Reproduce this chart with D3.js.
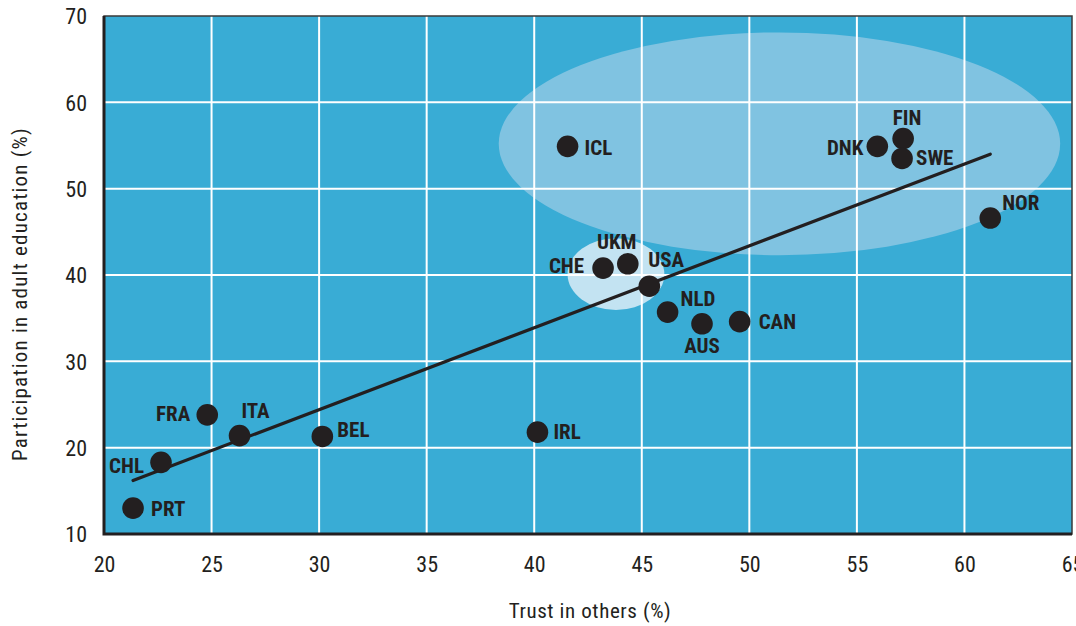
<!DOCTYPE html>
<html><head><meta charset="utf-8">
<script src="https://cdn.jsdelivr.net/npm/d3@7"></script>
<style>
html,body{margin:0;padding:0;background:#fff;}
svg{display:block;}
</style></head><body>
<svg id="chart" width="1076" height="626"></svg>
<script>
// ---- data ----
const countries = ["PRT","CHL","FRA","ITA","BEL","IRL","ICL","CHE","UKM","USA","NLD","AUS","CAN","DNK","FIN","SWE","NOR"];
const trust =      [21.35, 22.65, 24.8, 26.3, 30.15, 40.15, 41.55, 43.2, 44.35, 45.35, 46.2, 47.8, 49.55, 55.95, 57.15, 57.1, 61.2];
const participation = [13.0, 18.3, 23.8, 21.4, 21.3, 21.8, 54.9, 40.8, 41.3, 38.7, 35.7, 34.35, 34.6, 54.9, 55.8, 53.5, 46.6];
const xTicks = [20,25,30,35,40,45,50,55,60,65];
const yTicks = [10,20,30,40,50,60,70];
const trendX = [21.35, 61.2];
const trendY = [16.2, 54.0];
// highlighted clusters: [cx, cy, rx, ry] in data units
const clusterNordic = [51.4, 55.2, 13.05, 12.9];
const clusterAnglo = [43.8, 40.1, 2.25, 4.15];

// label placement (offsets in px, anchor)
const labelPos = {
  PRT:[18,0,"start"], CHL:[-17,3,"end"], FRA:[-17,-1,"end"], ITA:[16,-25,"middle"],
  BEL:[15,-7,"start"], IRL:[16,-1,"start"], ICL:[17,1,"start"], CHE:[-19,-3,"end"],
  UKM:[-11,-22,"middle"], USA:[-1,-27,"start"], NLD:[13,-14,"start"], AUS:[0,22,"middle"],
  CAN:[19,0,"start"], DNK:[-14,1,"end"], FIN:[4,-21,"middle"], SWE:[14,-1,"start"], NOR:[12,-16,"start"]
};

const svg = d3.select("#chart");
const L=104, R=1072, T=16, B=534;
const x = d3.scaleLinear().domain([20,65]).range([L,R]);
const y = d3.scaleLinear().domain([10,70]).range([B,T]);

svg.append("rect").attr("x",L).attr("y",T).attr("width",R-L).attr("height",B-T).attr("fill","#39acd5");

// ellipses
[[clusterNordic,"#80c3e1"],[clusterAnglo,"#c3e3f2"]].forEach(([c,col])=>{
  svg.append("ellipse")
    .attr("cx",x(c[0])).attr("cy",y(c[1]))
    .attr("rx",x(c[0]+c[2])-x(c[0])).attr("ry",y(c[1])-y(c[1]+c[3]))
    .attr("fill",col);
});

// grid
svg.append("g").selectAll("line").data(xTicks.filter(d=>d>20&&d<65)).join("line")
  .attr("x1",d=>x(d)).attr("x2",d=>x(d)).attr("y1",T).attr("y2",B)
  .attr("stroke","#fff").attr("stroke-width",2);
svg.append("g").selectAll("line").data(yTicks.filter(d=>d>10&&d<70)).join("line")
  .attr("y1",d=>y(d)).attr("y2",d=>y(d)).attr("x1",L).attr("x2",R)
  .attr("stroke","#fff").attr("stroke-width",2);

// frame
svg.append("rect").attr("x",L).attr("y",T).attr("width",R-L).attr("height",B-T)
  .attr("fill","none").attr("stroke","#3a3a3a").attr("stroke-width",1.5);
svg.append("path").attr("d",`M${L},${T}V${B}H${R}`).attr("fill","none")
  .attr("stroke","#231f20").attr("stroke-width",3);

// axes
const font = "'Roboto Condensed','Liberation Sans Narrow',sans-serif";
const xAxis = d3.axisBottom(x).tickValues(xTicks).tickSize(0).tickPadding(0);
const gx = svg.append("g").attr("transform",`translate(0,${B})`).call(xAxis);
gx.select(".domain").remove();
gx.selectAll("text").attr("y",38).attr("dy",0).attr("font-family",font).attr("font-size",22).attr("fill","#231f20");

const yAxis = d3.axisLeft(y).tickValues(yTicks).tickSize(0).tickPadding(0);
const gy = svg.append("g").attr("transform",`translate(${L},0)`).call(yAxis);
gy.select(".domain").remove();
gy.selectAll("text").attr("x",-17).attr("dy","0.36em").attr("font-family",font).attr("font-size",22).attr("fill","#231f20");

svg.append("text").attr("x",(510+670)/2).attr("y",618).attr("text-anchor","middle")
  .attr("font-family",font).attr("font-size",21).attr("letter-spacing",0.6).attr("fill","#231f20")
  .text("Trust in others (%)");
svg.append("text").attr("transform",`translate(27,294) rotate(-90)`).attr("text-anchor","middle")
  .attr("font-family",font).attr("font-size",21).attr("letter-spacing",1.2).attr("fill","#231f20")
  .text("Participation in adult education (%)");

// trend line
svg.append("line").attr("x1",x(trendX[0])).attr("y1",y(trendY[0])).attr("x2",x(trendX[1])).attr("y2",y(trendY[1]))
  .attr("stroke","#231f20").attr("stroke-width",3.2).attr("stroke-linecap","round");

// points
const pts = countries.map((c,i)=>({c, tx:trust[i], p:participation[i]}));
svg.append("g").selectAll("circle").data(pts).join("circle")
  .attr("cx",d=>x(d.tx)).attr("cy",d=>y(d.p)).attr("r",10.8).attr("fill","#231f20");

svg.append("g").selectAll("text").data(pts).join("text")
  .attr("x",d=>x(d.tx)+labelPos[d.c][0]).attr("y",d=>y(d.p)+labelPos[d.c][1])
  .attr("dy","0.36em").attr("text-anchor",d=>labelPos[d.c][2])
  .attr("font-family",font).attr("font-weight","bold").attr("font-size",21).attr("fill","#231f20")
  .text(d=>d.c);
</script>
</body></html>
